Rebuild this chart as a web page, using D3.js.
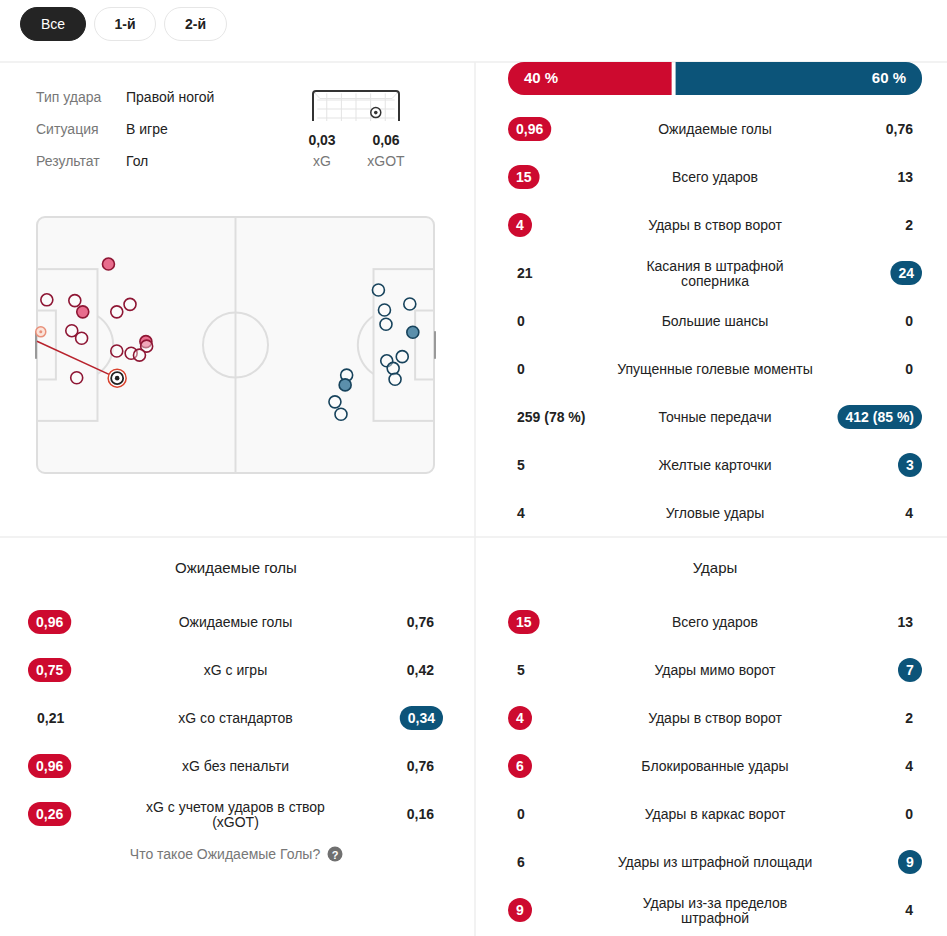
<!DOCTYPE html>
<html>
<head>
<meta charset="utf-8">
<script src="https://cdn.jsdelivr.net/npm/d3@7"></script>
<style>
  body { margin: 0; background: #fff; }
  svg { font-family: "Liberation Sans", Arial, sans-serif; }
</style>
</head>
<body>
<div id="chart"></div>
<script>
// tabs + selected shot
var tabs = ["Все", "1-й", "2-й"];
var shotInfoLabels = ["Тип удара", "Ситуация", "Результат"];
var shotInfoValues = ["Правой ногой", "В игре", "Гол"];
var shotXgValues = ["0,03", "0,06"];
var shotXgLabels = ["xG", "xGOT"];
var goalMouthBall = [0.73, 0.72]; // across / down inside goal frame

// shot map, pitch metres (105 x 68)
var homeShotX = [18.9, 2.6, 10.0, 12.1, 21.1, 24.6, 9.2, 11.8, 28.8, 29.0, 21.1, 24.9, 27.1, 10.5];
var homeShotY = [12.5, 22.0, 22.2, 25.2, 25.2, 23.2, 30.2, 32.2, 33.1, 34.3, 35.6, 36.2, 36.7, 42.7];
var homeShotOn = [1, 0, 0, 1, 0, 0, 0, 0, 1, 0, 0, 0, 0, 0];
var homeGoal = [21.2, 42.8];
var homeGoalEnd = [0, 33.0];
var homeGoalMark = [1.0, 30.5];

var awayShotX = [90.3, 98.6, 91.9, 92.3, 99.4, 96.6, 92.5, 94.2, 94.7, 81.9, 81.5, 78.8, 80.4];
var awayShotY = [19.4, 23.1, 24.7, 28.5, 30.6, 37.1, 38.2, 40.2, 43.1, 42.0, 44.6, 49.1, 52.4];
var awayShotOn = [0, 0, 0, 0, 1, 0, 0, 0, 0, 0, 1, 0, 0];

// possession
var possession = [40, 60];

// top stats
var topLabels = ["Ожидаемые голы", "Всего ударов", "Удары в створ ворот", "Касания в штрафной\nсоперника",
  "Большие шансы", "Упущенные голевые моменты", "Точные передачи", "Желтые карточки", "Угловые удары"];
var topHome = ["0,96", "15", "4", "21", "0", "0", "259 (78 %)", "5", "4"];
var topAway = ["0,76", "13", "2", "24", "0", "0", "412 (85 %)", "3", "4"];
var topBetter = ["h", "h", "h", "a", "", "", "a", "a", ""];

// expected goals block
var xgTitle = "Ожидаемые голы";
var xgLabels = ["Ожидаемые голы", "xG с игры", "xG со стандартов", "xG без пенальти", "xG с учетом ударов в створ\n(xGOT)"];
var xgHome = ["0,96", "0,75", "0,21", "0,96", "0,26"];
var xgAway = ["0,76", "0,42", "0,34", "0,76", "0,16"];
var xgBetter = ["h", "h", "a", "h", "h"];
var xgHelp = "Что такое Ожидаемые Голы?";

// shots block
var shotsTitle = "Удары";
var shotsLabels = ["Всего ударов", "Удары мимо ворот", "Удары в створ ворот", "Блокированные удары",
  "Удары в каркас ворот", "Удары из штрафной площади", "Удары из-за пределов\nштрафной"];
var shotsHome = ["15", "5", "4", "6", "0", "6", "9"];
var shotsAway = ["13", "7", "2", "4", "0", "9", "4"];
var shotsBetter = ["h", "a", "h", "h", "", "a", "h"];

var RED = "#cd0a2f";
var BLUE = "#0c5479";
var INK = "#222";
var GREY = "#777";
var LINE = "#eeeeee";

var svg = d3.select("#chart").append("svg").attr("width", 947).attr("height", 936);

// separators
svg.append("line").attr("x1", 0).attr("x2", 947).attr("y1", 62).attr("y2", 62).attr("stroke", LINE).attr("stroke-width", 1.5);
svg.append("line").attr("x1", 475).attr("x2", 475).attr("y1", 62).attr("y2", 936).attr("stroke", LINE).attr("stroke-width", 1.5);
svg.append("line").attr("x1", 0).attr("x2", 947).attr("y1", 537).attr("y2", 537).attr("stroke", LINE).attr("stroke-width", 1.5);

// tabs
var tabX = [20, 94, 164];
var tabW = [66, 62, 63];
var tab = svg.selectAll(".tab").data(tabs).enter().append("g").attr("class", "tab");
tab.append("rect")
  .attr("x", function(d, i) { return tabX[i] + 0.5; })
  .attr("y", 7.5).attr("width", function(d, i) { return tabW[i] - 1; }).attr("height", 33).attr("rx", 16.5)
  .attr("fill", function(d, i) { return i == 0 ? "#242424" : "#fff"; })
  .attr("stroke", function(d, i) { return i == 0 ? "#242424" : "#e6e6e6"; });
tab.append("text")
  .attr("x", function(d, i) { return tabX[i] + tabW[i] / 2; }).attr("y", 24)
  .attr("text-anchor", "middle").attr("dominant-baseline", "central")
  .attr("font-size", 14).attr("font-weight", function(d, i) { return i == 0 ? "normal" : "bold"; })
  .attr("fill", function(d, i) { return i == 0 ? "#fff" : INK; })
  .text(function(d) { return d; });

// selected shot info
var infoY = d3.scalePoint().domain(d3.range(3)).range([97, 161]);
svg.selectAll(".infoL").data(shotInfoLabels).enter().append("text")
  .attr("x", 36).attr("y", function(d, i) { return infoY(i); })
  .attr("dominant-baseline", "central").attr("font-size", 14).attr("fill", GREY).text(function(d) { return d; });
svg.selectAll(".infoV").data(shotInfoValues).enter().append("text")
  .attr("x", 126).attr("y", function(d, i) { return infoY(i); })
  .attr("dominant-baseline", "central").attr("font-size", 14).attr("fill", INK).text(function(d) { return d; });

// mini goal frame
var gx = d3.scaleLinear().domain([0, 1]).range([313, 399]);
var gy = d3.scaleLinear().domain([0, 1]).range([91, 121]);
var net = svg.append("g").attr("stroke", "#e3e3e3").attr("stroke-width", 1).attr("fill", "none");
[0.16, 0.33, 0.5, 0.67, 0.84].forEach(function(t) {
  net.append("line").attr("x1", gx(t)).attr("x2", gx(t)).attr("y1", gy(0.08)).attr("y2", gy(1));
});
[0.3, 0.6, 0.9].forEach(function(t) {
  net.append("line").attr("x1", gx(0.05)).attr("x2", gx(0.95)).attr("y1", gy(t)).attr("y2", gy(t));
});
net.append("path").attr("d", "M" + gx(0) + "," + gy(0) + "L" + gx(0.08) + "," + gy(0.25) + "L" + gx(0.92) + "," + gy(0.25) + "L" + gx(1) + "," + gy(0));
svg.append("path")
  .attr("d", "M" + gx(0) + "," + gy(1) + "V" + (gy(0) + 3) + "Q" + gx(0) + "," + gy(0) + " " + (gx(0) + 3) + "," + gy(0) +
    "H" + (gx(1) - 3) + "Q" + gx(1) + "," + gy(0) + " " + gx(1) + "," + (gy(0) + 3) + "V" + gy(1))
  .attr("fill", "none").attr("stroke", "#333").attr("stroke-width", 2);
svg.append("circle").attr("cx", gx(goalMouthBall[0])).attr("cy", gy(goalMouthBall[1])).attr("r", 5)
  .attr("fill", "#fff").attr("stroke", "#333").attr("stroke-width", 1.5);
svg.append("circle").attr("cx", gx(goalMouthBall[0])).attr("cy", gy(goalMouthBall[1])).attr("r", 1.8).attr("fill", "#333");

var xgX = [322, 386];
svg.selectAll(".sxg").data(shotXgValues).enter().append("text")
  .attr("x", function(d, i) { return xgX[i]; }).attr("y", 140).attr("text-anchor", "middle")
  .attr("dominant-baseline", "central").attr("font-size", 14).attr("font-weight", "bold").attr("fill", INK)
  .text(function(d) { return d; });
svg.selectAll(".sxgl").data(shotXgLabels).enter().append("text")
  .attr("x", function(d, i) { return xgX[i]; }).attr("y", 161).attr("text-anchor", "middle")
  .attr("dominant-baseline", "central").attr("font-size", 14).attr("fill", GREY)
  .text(function(d) { return d; });

// pitch
var px = d3.scaleLinear().domain([0, 105]).range([37, 434]);
var py = d3.scaleLinear().domain([0, 68]).range([217, 473]);
var pitch = svg.append("g").attr("fill", "none").attr("stroke", "#dedede").attr("stroke-width", 2);
pitch.append("rect").attr("x", px(0)).attr("y", py(0)).attr("width", px(105) - px(0)).attr("height", py(68) - py(0))
  .attr("rx", 8).attr("fill", "#f9f9f9");
pitch.append("line").attr("x1", px(52.5)).attr("x2", px(52.5)).attr("y1", py(0)).attr("y2", py(68));
pitch.append("circle").attr("cx", px(52.5)).attr("cy", py(34)).attr("r", px(8.6) - px(0));
[0, 1].forEach(function(side) {
  var dir = side == 0 ? 1 : -1;
  var gl = side == 0 ? 0 : 105;
  var box = side == 0 ? [0, 16] : [89, 105];
  var six = side == 0 ? [0, 5] : [100, 105];
  pitch.append("rect").attr("x", px(box[0])).attr("y", py(13.84)).attr("width", px(box[1]) - px(box[0])).attr("height", py(54.16) - py(13.84));
  pitch.append("rect").attr("x", px(six[0])).attr("y", py(24.84)).attr("width", px(six[1]) - px(six[0])).attr("height", py(43.16) - py(24.84));
  // penalty arc outside box
  var r = px(9.15) - px(0);
  var spot = gl + dir * 11;
  var edge = gl + dir * 16;
  var dx = Math.abs(px(edge) - px(spot));
  var dy = Math.sqrt(r * r - dx * dx);
  pitch.append("path")
    .attr("d", "M" + px(edge) + "," + (py(34) - dy) + "A" + r + "," + r + " 0 0 " + (side == 0 ? 1 : 0) + " " + px(edge) + "," + (py(34) + dy));
  svg.append("rect").attr("x", px(gl) - (side == 0 ? 2 : 0)).attr("y", py(30.34)).attr("width", 2).attr("height", py(37.66) - py(30.34))
    .attr("fill", "#999");
});

// home shots
svg.append("line").attr("x1", px(homeGoalEnd[0])).attr("y1", py(homeGoalEnd[1]))
  .attr("x2", px(homeGoal[0])).attr("y2", py(homeGoal[1])).attr("stroke", "#b8232d").attr("stroke-width", 1.5);
svg.append("circle").attr("cx", px(homeGoalMark[0])).attr("cy", py(homeGoalMark[1])).attr("r", 5)
  .attr("fill", "#fbe3d9").attr("stroke", "#e8907a").attr("stroke-width", 1.5);
svg.append("circle").attr("cx", px(homeGoalMark[0])).attr("cy", py(homeGoalMark[1])).attr("r", 1.5).attr("fill", "#e8907a");

svg.selectAll(".hs").data(homeShotX).enter().append("circle")
  .attr("cx", function(d) { return px(d); })
  .attr("cy", function(d, i) { return py(homeShotY[i]); })
  .attr("r", 6)
  .attr("fill", function(d, i) { return homeShotOn[i] ? "#e5557a" : "rgba(255,255,255,0.4)"; })
  .attr("fill-opacity", function(d, i) { return homeShotOn[i] ? 0.85 : 1; })
  .attr("stroke", "#8e1634").attr("stroke-width", 1.6);

// goal shot (selected)
var gsx = px(homeGoal[0]), gsy = py(homeGoal[1]);
svg.append("circle").attr("cx", gsx).attr("cy", gsy).attr("r", 9).attr("fill", "#fff").attr("stroke", "#d9432e").attr("stroke-width", 1.5);
svg.append("circle").attr("cx", gsx).attr("cy", gsy).attr("r", 6).attr("fill", "#fff").attr("stroke", "#222").attr("stroke-width", 1.8);
svg.append("circle").attr("cx", gsx).attr("cy", gsy).attr("r", 2.3).attr("fill", "#222");

svg.selectAll(".as").data(awayShotX).enter().append("circle")
  .attr("cx", function(d) { return px(d); })
  .attr("cy", function(d, i) { return py(awayShotY[i]); })
  .attr("r", 6)
  .attr("fill", function(d, i) { return awayShotOn[i] ? "#5b8fab" : "rgba(255,255,255,0.4)"; })
  .attr("stroke", "#17435c").attr("stroke-width", 1.6);

// possession bar
var pos = d3.scaleLinear().domain([0, 100]).range([508, 922]);
var splitX = pos(possession[0]);
svg.append("path")
  .attr("d", "M" + (splitX - 2) + ",62V95H" + (pos(0) + 16) + "A16,16 0 0 1 " + pos(0) + ",79V78A16,16 0 0 1 " + (pos(0) + 16) + ",62Z")
  .attr("fill", RED);
svg.append("path")
  .attr("d", "M" + (splitX + 2) + ",62V95H" + (pos(100) - 16) + "A16,16 0 0 0 " + pos(100) + ",79V78A16,16 0 0 0 " + (pos(100) - 16) + ",62Z")
  .attr("fill", BLUE);
svg.append("text").attr("x", pos(0) + 16).attr("y", 77).attr("dominant-baseline", "central")
  .attr("font-size", 15).attr("font-weight", "bold").attr("fill", "#fff").text(possession[0] + " %");
svg.append("text").attr("x", pos(100) - 16).attr("y", 77).attr("dominant-baseline", "central").attr("text-anchor", "end")
  .attr("font-size", 15).attr("font-weight", "bold").attr("fill", "#fff").text(possession[1] + " %");

// stat row helper
function drawRows(labels, home, away, better, y0, left, right) {
  var g = svg.append("g");
  var mid = (left + right) / 2;
  labels.forEach(function(lab, i) {
    var y = y0 + i * 48;
    var lines = lab.split("\n");
    lines.forEach(function(ln, k) {
      g.append("text").attr("x", mid).attr("y", y + (k - (lines.length - 1) / 2) * 15)
        .attr("text-anchor", "middle").attr("dominant-baseline", "central")
        .attr("font-size", 14).attr("fill", INK).text(ln);
    });
    badge(g, home[i], left, y, better[i] == "h" ? RED : null, "start");
    badge(g, away[i], right, y, better[i] == "a" ? BLUE : null, "end");
  });
}

function badge(g, txt, x, y, color, anchor) {
  var t = g.append("text").attr("y", y).attr("dominant-baseline", "central")
    .attr("font-size", 14).attr("font-weight", "bold").text(txt);
  var w = t.node().getComputedTextLength();
  var bw = Math.max(24, w + 16);
  var bx = anchor == "start" ? x : x - bw;
  if (color) {
    g.insert("rect", function() { return t.node(); })
      .attr("x", bx).attr("y", y - 12).attr("width", bw).attr("height", 24).attr("rx", 12).attr("fill", color);
    t.attr("x", bx + bw / 2).attr("text-anchor", "middle").attr("fill", "#fff");
  } else {
    t.attr("x", anchor == "start" ? x + 9 : x - 9)
      .attr("text-anchor", anchor == "start" ? "start" : "end").attr("fill", INK);
  }
}

drawRows(topLabels, topHome, topAway, topBetter, 129, 508, 922);

// bottom titles
svg.append("text").attr("x", 236).attr("y", 567).attr("text-anchor", "middle").attr("dominant-baseline", "central")
  .attr("font-size", 15).attr("fill", INK).text(xgTitle);
svg.append("text").attr("x", 715).attr("y", 567).attr("text-anchor", "middle").attr("dominant-baseline", "central")
  .attr("font-size", 15).attr("fill", INK).text(shotsTitle);

drawRows(xgLabels, xgHome, xgAway, xgBetter, 622, 28, 443);
drawRows(shotsLabels, shotsHome, shotsAway, shotsBetter, 622, 508, 922);

// help line
svg.append("text").attr("x", 225).attr("y", 854).attr("text-anchor", "middle").attr("dominant-baseline", "central")
  .attr("font-size", 14).attr("fill", GREY).text(xgHelp);
svg.append("circle").attr("cx", 335).attr("cy", 854).attr("r", 7.5).attr("fill", "#707070");
svg.append("text").attr("x", 335).attr("y", 854.5).attr("text-anchor", "middle").attr("dominant-baseline", "central")
  .attr("font-size", 11).attr("font-weight", "bold").attr("fill", "#fff").text("?");
</script>
</body>
</html>
